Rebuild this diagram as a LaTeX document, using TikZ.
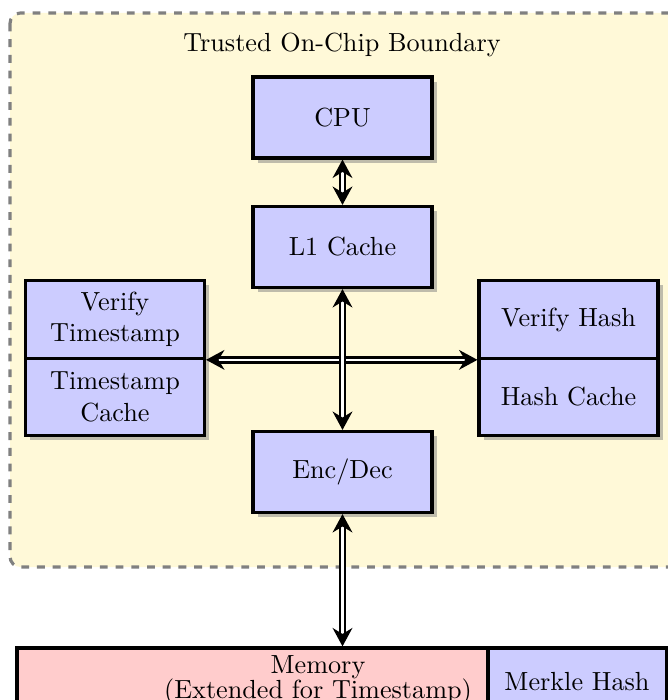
\documentclass[tikz,border=0pt]{standalone}
\usetikzlibrary{arrows.meta,shadows}

\definecolor{zonefill}{RGB}{255,249,216}

\tikzset{
  x=0.3817pt, y=-0.3817pt,
  unitbox/.style={draw, very thick, fill=blue!20, align=center,
    minimum width=68.3pt, minimum height=30.9pt, inner sep=1pt,
    drop shadow={shadow xshift=1.8pt, shadow yshift=-1.8pt, opacity=0.5, fill=black!50}},
  halfbox/.style={unitbox, minimum height=29.6pt},
  membox/.style={draw, very thick, align=center, inner sep=1pt,
    minimum height=26pt},
  link/.style={double=white, double distance=0.9pt, line width=1.05pt,
    {Stealth[length=7pt,width=7.5pt]}-{Stealth[length=7pt,width=7.5pt]}},
  zone/.style={draw=gray, very thick, dashed, fill=zonefill, rounded corners=4pt}
}

\begin{document}
\begin{tikzpicture}
  \useasboundingbox (0,0) rectangle (668,700);

  % trusted on-chip area
  \path[zone] (10,13) rectangle (678,567);
  \node (title) at (342,45) {Trusted On-Chip Boundary};

  % on-chip blocks
  \node[unitbox] (cpu) at (342.5,117.5) {CPU};
  \node[unitbox] (l1)  at (342.5,247)   {L1 Cache};
  \node[unitbox] (enc) at (342.5,472)   {Enc/Dec};

  \node[halfbox] (vt) at (115,319.5) {Verify\\Timestamp};
  \node[halfbox] (tc) at (115,397)   {Timestamp\\Cache};
  \node[halfbox] (vh) at (568.5,319.5) {Verify Hash};
  \node[halfbox] (hc) at (568.5,397)   {Hash Cache};

  % off-chip memory (the hash column is laid over its right end)
  \node[membox, fill=red!20, minimum width=229.8pt] (mem) at (318,682)
    {Memory\\[-2.5pt](Extended for Timestamp)\\[-8pt]\mbox{}};
  \node[membox, fill=blue!20, minimum width=68pt] (mk) at (577,682) {Merkle Hash};

  % connections
  \draw[link] (vt.south east) -- (vh.south west);
  \draw[link] (cpu.south) -- (l1.north);
  \draw[link] (l1.south) -- (enc.north);
  \draw[link] (enc.south) -- (enc.south |- mem.north);
\end{tikzpicture}
\end{document}
